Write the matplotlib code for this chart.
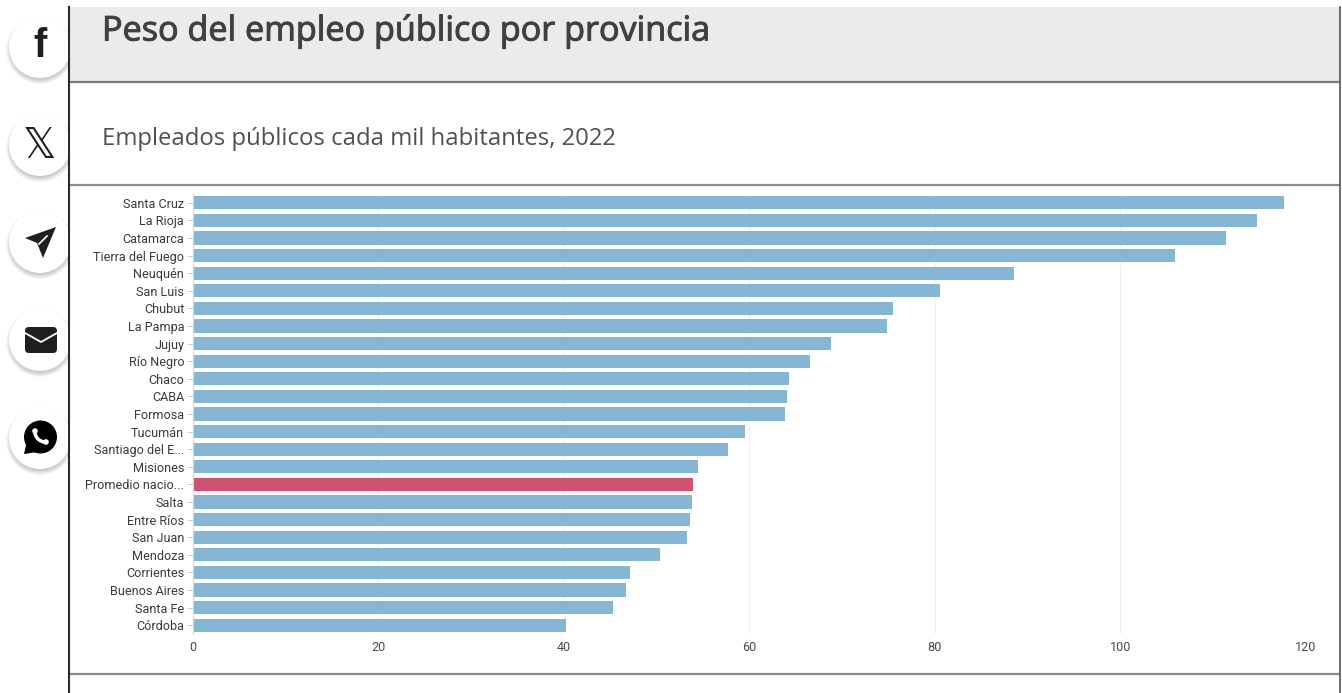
import matplotlib
matplotlib.use('Agg')
import matplotlib.pyplot as plt
import matplotlib.patheffects as pe
from matplotlib.patches import Circle, Polygon, Rectangle, FancyBboxPatch, Wedge

W, H = 1342, 693

provincias = ['Santa Cruz', 'La Rioja', 'Catamarca', 'Tierra del Fuego', 'Neuquén',
              'San Luis', 'Chubut', 'La Pampa', 'Jujuy', 'Río Negro', 'Chaco', 'CABA',
              'Formosa', 'Tucumán', 'Santiago del E...', 'Misiones', 'Promedio nacio...',
              'Salta', 'Entre Ríos', 'San Juan', 'Mendoza', 'Corrientes', 'Buenos Aires',
              'Santa Fe', 'Córdoba']
empleados = [117.6, 114.7, 111.4, 105.9, 88.5, 80.6, 75.5, 74.8, 68.8, 66.6, 64.3, 64.1,
             63.8, 59.5, 57.7, 54.5, 53.9, 53.8, 53.6, 53.3, 50.4, 47.1, 46.7, 45.3, 40.3]
x_ticks = [0, 20, 40, 60, 80, 100, 120]

titulo = 'Peso del empleo público por provincia'
subtitulo = 'Empleados públicos cada mil habitantes, 2022'

AZUL = '#86b6d3'
ROJO = '#cf5273'

fig = plt.figure(figsize=(W / 100, H / 100), dpi=100, facecolor='white')

# page furniture in pixel coordinates
bg = fig.add_axes([0, 0, 1, 1], zorder=0)
bg.set_xlim(0, W)
bg.set_ylim(H, 0)
bg.axis('off')
bg.add_patch(Rectangle((69, 7), W - 72, 74, fc='#ebebeb', ec='none'))
bg.plot([69, 1339], [81.5, 81.5], color='#7d7d7d', lw=1.6)
bg.plot([69, 1339], [185, 185], color='#8a8a8a', lw=1.6)
bg.plot([69, 1339], [673.5, 673.5], color='#8a8a8a', lw=1.6)
bg.plot([68.5, 68.5], [7, H], color='#2a2a2a', lw=1.5)
bg.plot([1339.5, 1339.5], [7, H], color='#555555', lw=1.2)
tt = bg.text(102, 31, titulo, fontsize=24.6, family='Open Sans', color='#404040',
             va='center', ha='left')
tt.set_path_effects([pe.withStroke(linewidth=0.7, foreground='#404040')])
bg.text(102, 139, subtitulo, fontsize=17.2, family='Open Sans', color='#505050',
        va='center', ha='left')

# bar chart
ax = fig.add_axes([192.5 / W, 1 - 634 / H, (1306 - 192.5) / W, (634 - 194) / H], zorder=1)
ax.patch.set_alpha(0)
pos = list(range(len(provincias)))
colores = [ROJO if p.startswith('Promedio') else AZUL for p in provincias]
ax.barh(pos, empleados, height=0.76, color=colores, edgecolor='none')
ax.set_ylim(len(provincias) - 0.5, -0.5)
ax.set_xlim(0, 120)
ax.set_yticks(pos, provincias)
ax.set_xticks(x_ticks)
ax.grid(axis='x', color='#f0f0f0', lw=0.8)
ax.set_axisbelow(True)
for s in ['top', 'right', 'bottom']:
    ax.spines[s].set_visible(False)
ax.spines['left'].set_color('#d5d5d5')
ax.tick_params(axis='y', length=4, width=0.7, color='#c8c8c8', pad=2, labelsize=9.1,
               labelcolor='#3a3a3a')
ax.tick_params(axis='x', length=0, pad=5, labelsize=9.1, labelcolor='#4a4a4a')
for t in ax.get_xticklabels() + ax.get_yticklabels():
    t.set_family('Roboto')

# share buttons on the left edge
fg = fig.add_axes([0, 0, 1, 1], zorder=2)
fg.set_xlim(0, W)
fg.set_ylim(H, 0)
fg.axis('off')
fg.patch.set_alpha(0)
clip = Rectangle((0, 0), 68, H, transform=fg.transData)
centros = [47, 145, 242, 340, 438]
for cy in centros:
    for k in range(8):
        sh = Circle((40, cy + 3), 34 - k * 0.9, fc='black', ec='none', alpha=0.035)
        fg.add_patch(sh)
        sh.set_clip_path(clip)
    c = Circle((40, cy), 31, fc='white', ec='none')
    fg.add_patch(c)
    c.set_clip_path(clip)

ICON = '#1f1f1f'
fg.text(40.5, 46, 'f', fontsize=29, family='Liberation Sans', fontweight='bold',
        color=ICON, ha='center', va='center')
fg.text(40, 146, '\U0001D54F', fontsize=30, family='DejaVu Sans', color=ICON,
        ha='center', va='center')
# paper plane with its white fold
fg.add_patch(Polygon([(56, 227), (25, 238), (37, 243), (43, 258)], fc=ICON, ec='none'))
fg.plot([47, 39], [236, 244], color='white', lw=1.2)
# envelope
fg.add_patch(FancyBboxPatch((25, 327), 32, 26, boxstyle='round,pad=0,rounding_size=4',
                            fc=ICON, ec='none'))
fg.plot([25, 41, 57], [333, 342, 333], color='white', lw=1.3)
# speech bubble with handset
fg.add_patch(Circle((40.5, 437), 16.5, fc='black', ec='none'))
fg.add_patch(Polygon([(24, 454), (27, 441), (37, 452)], fc='black', ec='none'))
fg.add_patch(Wedge((46, 431), 13, 90, 180, width=3.5, fc='white', ec='none'))
fg.add_patch(Circle((35, 431), 2.8, fc='white', ec='none'))
fg.add_patch(Circle((46, 442), 2.8, fc='white', ec='none'))

fig.savefig('out.png', dpi=100)
